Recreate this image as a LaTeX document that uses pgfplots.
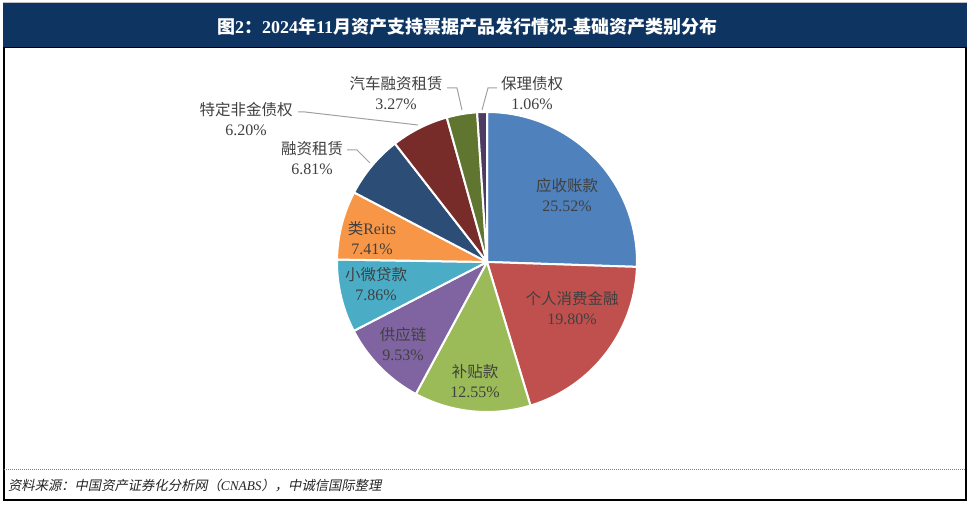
\documentclass[border=0pt]{standalone}
\usepackage{pgfplots}
\pgfplotsset{compat=1.18}
\usepackage{fontspec}
\setmainfont{Liberation Serif}
\newfontfamily\cjk{Noto Sans CJK SC}
\newfontfamily\cjkit{Noto Sans CJK SC}[FakeSlant=0.2]

\definecolor{barnavy}{HTML}{0E3562}
\definecolor{labtxt}{HTML}{404040}
\definecolor{leadgray}{HTML}{A0A0A0}
\definecolor{c1}{HTML}{4F81BD}
\definecolor{c2}{HTML}{C0504D}
\definecolor{c3}{HTML}{9BBB59}
\definecolor{c4}{HTML}{8064A2}
\definecolor{c5}{HTML}{4BACC6}
\definecolor{c6}{HTML}{F79646}
\definecolor{c7}{HTML}{2C4D75}
\definecolor{c8}{HTML}{772C2A}
\definecolor{c9}{HTML}{5F7530}
\definecolor{c10}{HTML}{4D3B62}

% pie centre and radius, in picture pixels (y up)
\def\cx{487}
\def\cy{243}
\def\rr{150}
\def\cum{0}
% one slice: colour, share in percent; slices run clockwise from 12 o'clock
\newcommand\slice[2]{%
  \pgfmathsetmacro\aS{90-\cum*3.6}%
  \pgfmathsetmacro\aE{90-(\cum+#2)*3.6}%
  \pgfmathsetmacro\newcum{\cum+#2}%
  \xdef\cum{\newcum}%
  \edef\next{\noexpand\addplot[fill=#1,draw=white,line width=2pt,line join=round,
    domain=\aE:\aS,samples=90,variable=\noexpand\t]
    ({\cx+\rr*cos(\noexpand\t)},{\cy+\rr*sin(\noexpand\t)}) -- (axis cs:\cx,\cy) -- cycle;}%
  \next}

\newcommand\lab[2]{{\cjk #1}\\{\fontsize{16}{20}\selectfont #2\%}}

\begin{document}
\begin{tikzpicture}
\begin{axis}[width=970pt,height=505pt,scale only axis,
  xmin=0,xmax=970,ymin=0,ymax=505,axis lines=none,clip=false]
\fill[white] (axis cs:0,0) rectangle (axis cs:970,505);

\slice{c1}{25.52}
\slice{c2}{19.80}
\slice{c3}{12.55}
\slice{c4}{9.53}
\slice{c5}{7.86}
\slice{c6}{7.41}
\slice{c7}{6.81}
\slice{c8}{6.20}
\slice{c9}{3.27}
\slice{c10}{1.06}

\tikzset{lbl/.style={text=labtxt,align=center,inner sep=0pt,
  font=\fontsize{15.5}{20}\selectfont},
  leader/.style={draw=leadgray,line width=1pt}}
\node[lbl] at (axis cs:567,310) {\lab{应收账款}{25.52}};
\node[lbl] at (axis cs:572,197) {\lab{个人消费金融}{19.80}};
\node[lbl] at (axis cs:475,124) {\lab{补贴款}{12.55}};
\node[lbl] at (axis cs:403,161) {\lab{供应链}{9.53}};
\node[lbl] at (axis cs:376,221) {\lab{小微贷款}{7.86}};
\node[lbl] at (axis cs:372,267) {{\cjk 类}{\fontsize{16}{20}\selectfont Reits}\\{\fontsize{16}{20}\selectfont 7.41\%}};
\node[lbl] at (axis cs:312,347) {\lab{融资租赁}{6.81}};
\node[lbl] at (axis cs:246,386) {\lab{特定非金债权}{6.20}};
\node[lbl] at (axis cs:396,412) {\lab{汽车融资租赁}{3.27}};
\node[lbl] at (axis cs:532,412) {\lab{保理债权}{1.06}};

\draw[leader] (axis cs:347,355) -- (axis cs:357,355) -- (axis cs:370,342);
\draw[leader] (axis cs:298,393) -- (axis cs:305,393) -- (axis cs:418,380);
\draw[leader] (axis cs:447,417) -- (axis cs:457,417) -- (axis cs:462,395);
\draw[leader] (axis cs:497,417) -- (axis cs:488,417) -- (axis cs:482,395);

% frame, title bar and source line
\draw[black,line width=1.2pt] (axis cs:4,457) -- (axis cs:4,5) -- (axis cs:966,5) -- (axis cs:966,457);
\draw[gray!50,line width=0.8pt] (axis cs:3,503) -- (axis cs:967,503);
\fill[barnavy] (axis cs:3,457) rectangle (axis cs:967,502);
\draw[black,line width=1pt] (axis cs:3,457) -- (axis cs:967,457);
\node[text=white,font=\fontsize{18}{18}\selectfont\bfseries] at (axis cs:467,478)
  {{\cjk 图}2{\cjk ：}2024{\cjk 年}11{\cjk 月资产支持票据产品发行情况}-{\cjk 基础资产类别分布}};
\draw[gray,line width=0.8pt,dash pattern=on 1pt off 1pt] (axis cs:4,36) -- (axis cs:966,36);
\node[anchor=west,text=black!85,inner sep=0pt,font=\fontsize{13.3}{13.3}\selectfont\itshape]
  at (axis cs:8,19) {{\cjkit 资料来源：中国资产证券化分析网（}CNABS{\cjkit ），中诚信国际整理}};
\end{axis}
\end{tikzpicture}
\end{document}
